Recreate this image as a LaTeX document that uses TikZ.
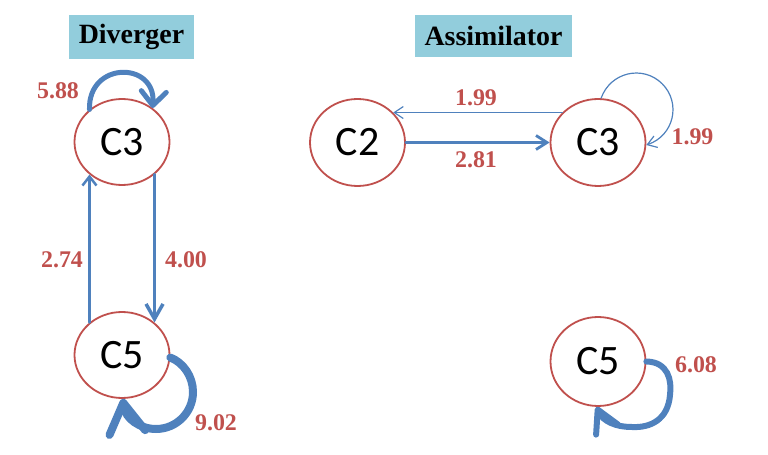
\documentclass[tikz,border=0pt]{standalone}
\usepackage{fontspec}
\setmainfont{Liberation Serif}
\newfontfamily\calib{Carlito}
\usetikzlibrary{arrows.meta,shapes.geometric}
\definecolor{eblue}{HTML}{4F81BD}
\definecolor{ered}{HTML}{C0504D}
\definecolor{ebox}{HTML}{92CDDC}
\begin{document}
\begin{tikzpicture}[x=1bp,y=-1bp,
  state/.style={ellipse, draw=ered, line width=1.8bp, fill=white, minimum width=95bp, minimum height=86bp, inner sep=0pt, font=\calib\fontsize{42}{42}\selectfont},
  wlabel/.style={text=ered, font=\bfseries\fontsize{24}{24}\selectfont, inner sep=0pt},
  titlebox/.style={fill=ebox, inner sep=0pt, font=\bfseries\fontsize{28}{28}\selectfont},
  flow/.style={draw=eblue, line cap=round}]
\useasboundingbox (0,0) rectangle (768,455);
% titles
\node[titlebox, minimum width=125bp, minimum height=44bp] (tdiv) at (131.5,37) {Diverger};
\node[titlebox, minimum width=157bp, minimum height=42bp] (tass) at (493.5,36) {Assimilator};
% states
\node[state] (dc3) at (122,142) {C3};
\node[state] (dc5) at (122,355) {C5};
\node[state, minimum height=87bp] (rc2) at (357.5,142.5) {C2};
\node[state, minimum height=87bp] (rc3) at (598,142.5) {C3};
\node[state, minimum height=89bp] (rc5) at (598,361.5) {C5};
% Diverger edges
\draw[flow, line width=2.5bp, -{Straight Barb[length=9bp,width=14bp]}] (dc5.135) -- (dc3.-135);
\draw[flow, line width=3.5bp, -{Straight Barb[length=15bp,width=17bp]}] (dc3.-45) -- (dc5.45);
\draw[flow, line width=5bp, -{Straight Barb[length=14bp,width=25bp,round]}]
  (dc3.135) .. controls (88,61) and (156,61) .. (dc3.48);
\draw[flow, line width=8bp, -{Straight Barb[length=30bp,width=36bp,round]}]
  (dc5.-3) .. controls (183.3,362.5) and (193,376.4) .. (193,392)
  .. controls (193,412.4) and (176.4,429) .. (156,429)
  .. controls (139.7,429) and (125.4,418.4) .. (dc5.-89);
% Assimilator edges
\draw[flow, line width=1.2bp, -{Straight Barb[length=9bp,width=12bp]}] (rc3.140) -- (rc2.40);
\draw[flow, line width=2.8bp, -{Straight Barb[length=11bp,width=14bp]}] (rc2.east) -- (rc3.west);
\draw[flow, line width=1.2bp, -{Straight Barb[length=9bp,width=12bp]}]
  (rc3.86) .. controls (610.5,71.9) and (643.1,64.7) .. (662.2,83.8)
  .. controls (681.3,102.9) and (674.1,135.5) .. (rc3.-3);
\draw[flow, line width=6bp, -{Straight Barb[length=22bp,width=24bp,round]}]
  (rc5.0) .. controls (668,362) and (672,380) .. (670,395)
  .. controls (668,420) and (650,428) .. (632,427)
  .. controls (615,427) and (603,421) .. (rc5.-92);
% labels
\node[wlabel] (l588) at (58,91) {5.88};
\node[wlabel] (l274) at (62,260) {2.74};
\node[wlabel] (l400) at (186,260) {4.00};
\node[wlabel] (l902) at (216,422.5) {9.02};
\node[wlabel] (l199a) at (476,98) {1.99};
\node[wlabel] (l281) at (476,160) {2.81};
\node[wlabel] (l199b) at (692.5,136.5) {1.99};
\node[wlabel] (l608) at (696,365) {6.08};
\end{tikzpicture}
\end{document}
